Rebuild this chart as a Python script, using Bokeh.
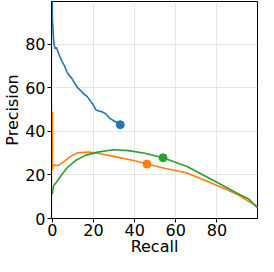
from bokeh.plotting import figure
from bokeh.models import Range1d, FixedTicker
from bokeh.embed import file_html
from bokeh.resources import INLINE

blue_recall = [0, 0, 0.3, 0.5, 0.8, 1.0, 1.3, 2, 3, 4.8, 6, 7, 8, 9.3, 11, 12.3, 14, 15.3, 17, 18.3, 20, 21.3, 23, 24.3, 26, 28, 30, 33]
blue_precision = [100, 92, 88, 84, 80, 79.5, 78, 78.5, 76, 72, 70, 67.5, 66, 64.6, 62, 60.1, 58.5, 57.2, 56, 54.2, 52, 49.8, 49.3, 49, 48, 46, 44.8, 43.1]
blue_point = (33, 43.1)

orange_recall = [0, 0, 0.3, 1, 2, 3.3, 5.5, 8.5, 12.3, 17.5, 22, 31, 40, 46, 55, 65.5, 80.4, 90, 100]
orange_precision = [49, 22, 24, 24.6, 24.3, 24.6, 26, 28.3, 30.2, 30.5, 30, 28.3, 26.5, 25, 23, 20.9, 15, 11, 5.3]
orange_point = (46, 25)

green_recall = [0, 0.6, 1.8, 4, 7, 11.5, 16, 22, 29.5, 37, 45, 53.8, 65.5, 80.4, 90, 95.4, 100]
green_precision = [11.2, 15, 16.4, 19.4, 23.1, 26.8, 29, 30.5, 31.6, 31.2, 30, 27.9, 23.9, 16.4, 11.5, 9, 4.6]
green_point = (53.8, 27.9)

ticks = [0, 20, 40, 60, 80]

p = figure(width=260, height=258, output_backend="svg", toolbar_location=None,
           x_range=Range1d(-0.4, 99.7), y_range=Range1d(0, 99.7),
           min_border_left=0, min_border_right=3, min_border_top=1, min_border_bottom=0)

font = "DejaVu Sans"
for ax in (p.xaxis, p.yaxis):
    ax.ticker = FixedTicker(ticks=ticks)
    ax.minor_tick_line_color = None
    ax.major_tick_in = 0
    ax.major_tick_out = 4
    ax.major_label_text_font = font
    ax.major_label_text_font_size = "16px"
    ax.major_label_text_color = "black"
    ax.major_label_text_line_height = 0.8
    ax.axis_label_text_font = font
    ax.axis_label_text_font_size = "16px"
    ax.axis_label_text_font_style = "normal"
    ax.axis_label_text_color = "black"
    ax.axis_line_color = "black"
    ax.major_tick_line_color = "black"
    ax.axis_label_text_line_height = 0.8

p.xaxis.major_label_standoff = 1
p.xaxis.axis_label_standoff = -2
p.yaxis.major_label_standoff = 2
p.yaxis.axis_label_standoff = 0

p.xaxis.axis_label = "Recall"
p.yaxis.axis_label = "Precision"
p.outline_line_color = "black"
p.outline_line_alpha = 1
p.grid.grid_line_color = "#e6e6e6"
p.grid.grid_line_width = 1

p.line(blue_recall, blue_precision, color="#1f77b4", line_width=1.6)
p.line(orange_recall, orange_precision, color="#ff7f0e", line_width=1.6)
p.line(green_recall, green_precision, color="#2ca02c", line_width=1.6)

p.scatter([blue_point[0]], [blue_point[1]], size=8, color="#1f77b4")
p.scatter([orange_point[0]], [orange_point[1]], size=8, color="#ff7f0e")
p.scatter([green_point[0]], [green_point[1]], size=8, color="#2ca02c")

open("out.html", "w").write(file_html(p, INLINE))
